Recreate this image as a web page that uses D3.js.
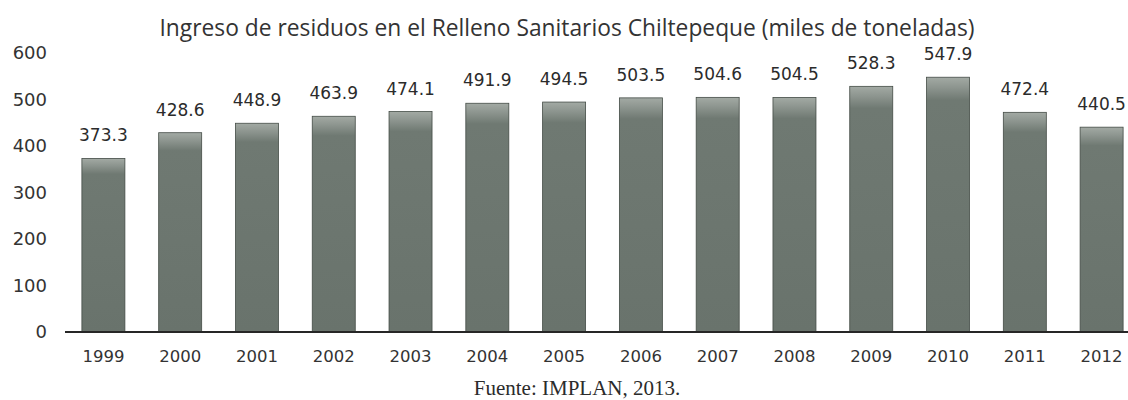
<!DOCTYPE html>
<html>
<head>
<meta charset="utf-8">
<script src="https://cdn.jsdelivr.net/npm/d3@7"></script>
<style>
  body { margin: 0; background: #fff; }
  svg { display: block; }
</style>
</head>
<body>
<svg id="chart"></svg>
<script>
// data
var years = ["1999", "2000", "2001", "2002", "2003", "2004", "2005", "2006", "2007", "2008", "2009", "2010", "2011", "2012"]
var tonnes = [373.3, 428.6, 448.9, 463.9, 474.1, 491.9, 494.5, 503.5, 504.6, 504.5, 528.3, 547.9, 472.4, 440.5]
var yTicks = [0, 100, 200, 300, 400, 500, 600]
var title = "Ingreso de residuos en el Relleno Sanitarios Chiltepeque (miles de toneladas)"
var source = "Fuente: IMPLAN, 2013."

var width = 1128, height = 400

var svg = d3.select("#chart")
  .attr("width", width)
  .attr("height", height)

// scales
var x = d3.scaleBand()
  .domain(years)
  .range([65, 1140])
  .paddingInner(0.44)
  .paddingOuter(0.22)

var y = d3.scaleLinear()
  .domain([0, 600])
  .range([332, 53])

// bar shading, lighter at the top like the scan
var defs = svg.append("defs")
var grad = defs.append("linearGradient")
  .attr("id", "barFill")
  .attr("x1", 0).attr("y1", 0).attr("x2", 0).attr("y2", 1)
grad.append("stop").attr("offset", "0%").attr("stop-color", "#a3aaa4")
grad.append("stop").attr("offset", "4%").attr("stop-color", "#8d958f")
grad.append("stop").attr("offset", "9%").attr("stop-color", "#6f7972")
grad.append("stop").attr("offset", "100%").attr("stop-color", "#69736c")

// title
svg.append("text")
  .attr("x", 567)
  .attr("y", 36)
  .attr("text-anchor", "middle")
  .attr("textLength", 815)
  .attr("lengthAdjust", "spacingAndGlyphs")
  .style("font-family", "'Open Sans', sans-serif")
  .style("font-size", "24px")
  .style("fill", "#333")
  .text(title)

// y axis labels (no axis line in the original)
var yAxis = svg.append("g")
  .attr("transform", "translate(47,0)")
  .call(d3.axisLeft(y).tickValues(yTicks).tickSize(0).tickPadding(0))
yAxis.select(".domain").remove()
yAxis.selectAll("text")
  .style("font-family", "'DejaVu Sans', sans-serif")
  .style("font-size", "18px")
  .style("fill", "#333")

// bars
svg.append("g")
  .selectAll("rect")
  .data(tonnes)
  .enter()
  .append("rect")
  .attr("x", function(d, i) { return x(years[i]) })
  .attr("y", function(d) { return y(d) })
  .attr("width", x.bandwidth())
  .attr("height", function(d) { return y(0) - y(d) })
  .attr("fill", "url(#barFill)")
  .attr("stroke", "#444c46")
  .attr("stroke-width", 0.8)

// value labels
svg.append("g")
  .selectAll("text")
  .data(tonnes)
  .enter()
  .append("text")
  .attr("x", function(d, i) { return x(years[i]) + x.bandwidth() / 2 })
  .attr("y", function(d) { return y(d) - 17 })
  .attr("text-anchor", "middle")
  .style("font-family", "'DejaVu Sans', sans-serif")
  .style("font-size", "17px")
  .style("fill", "#2b2b2b")
  .text(function(d) { return d3.format(".1f")(d) })

// baseline
svg.append("line")
  .attr("x1", 65)
  .attr("x2", width)
  .attr("y1", y(0))
  .attr("y2", y(0))
  .attr("stroke", "#262626")
  .attr("stroke-width", 2)

// x axis labels
var xAxis = svg.append("g")
  .attr("transform", "translate(0," + y(0) + ")")
  .call(d3.axisBottom(x).tickSize(0).tickPadding(18))
xAxis.select(".domain").remove()
xAxis.selectAll("text")
  .style("font-family", "'DejaVu Sans', sans-serif")
  .style("font-size", "16.5px")
  .style("fill", "#333")

// source
svg.append("text")
  .attr("x", 577)
  .attr("y", 395)
  .attr("text-anchor", "middle")
  .style("font-family", "'Liberation Serif', serif")
  .style("font-size", "21px")
  .style("fill", "#2b2b2b")
  .text(source)
</script>
</body>
</html>
